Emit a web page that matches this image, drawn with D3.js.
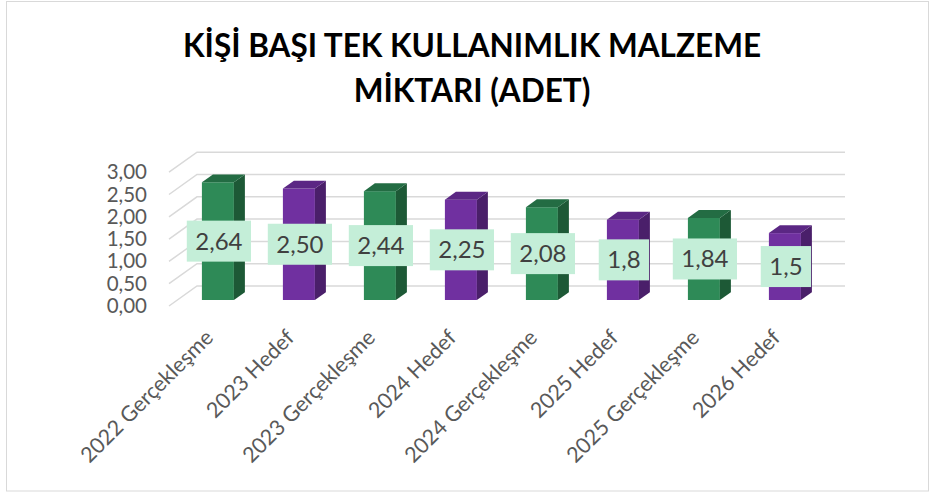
<!DOCTYPE html>
<html>
<head>
<meta charset="utf-8">
<script src="https://cdn.jsdelivr.net/npm/d3@7"></script>
<style>
  body { margin: 0; background: #fff; }
  svg { display: block; font-family: Lato, "Open Sans", sans-serif; }
</style>
</head>
<body>
<svg width="931" height="493"></svg>
<script>
var kategoriler = ["2022 Gerçekleşme", "2023 Hedef", "2023 Gerçekleşme", "2024 Hedef",
                   "2024 Gerçekleşme", "2025 Hedef", "2025 Gerçekleşme", "2026 Hedef"];
var degerler = [2.64, 2.50, 2.44, 2.25, 2.08, 1.8, 1.84, 1.5];
var etiketler = ["2,64", "2,50", "2,44", "2,25", "2,08", "1,8", "1,84", "1,5"];
var yTikler = [0, 0.5, 1, 1.5, 2, 2.5, 3];
var baslik = ["KİŞİ BAŞI TEK KULLANIMLIK MALZEME", "MİKTARI (ADET)"];

var svg = d3.select("svg");

// 3D: full depth shifts a point by (derinX, derinY)
var derinX = 28, derinY = -20;
function p(x, y, z) { return [x + derinX * z, y + derinY * z]; }

var x = d3.scaleBand()
    .domain(kategoriler)
    .range([169, 817])
    .paddingInner(0.605)
    .paddingOuter(0.3025);

var y = d3.scaleLinear().domain([0, 3]).range([306, 172.2]);

var renk = {
  g: {on: "#2e8a57", yan: "#1d5936", ust: "#236c43"},
  h: {on: "#7030a0", yan: "#4a1f6a", ust: "#5b2784"}
};
function tur(d) { return /Hedef/.test(d) ? "h" : "g"; }

var virgul = d3.formatLocale({decimal: ",", thousands: ".", grouping: [3], currency: ["", ""]}).format(".2f");

// border
svg.append("rect")
    .attr("x", 6.5).attr("y", 1.5)
    .attr("width", 922).attr("height", 489.5)
    .attr("fill", "none")
    .attr("stroke", "#d9d9d9");

// title
svg.append("g")
    .attr("font-weight", "bold")
    .attr("font-size", 31.5)
    .attr("text-anchor", "middle")
  .selectAll("text")
  .data(baslik)
  .enter().append("text")
    .attr("x", 472)
    .attr("y", function(d, i) { return 57 + i * 45; })
    .text(function(d) { return d; });

// gridlines: side wall diagonal + back wall
var grid = svg.append("g")
    .attr("fill", "none")
    .attr("stroke", "#d9d9d9")
    .attr("stroke-width", 1.5);

grid.selectAll("path")
  .data(yTikler)
  .enter().append("path")
    .attr("d", function(d) {
      var a = p(x.range()[0], y(d), 0),
          b = p(x.range()[0], y(d), 1),
          c = p(x.range()[1], y(d), 1);
      return "M" + a + "L" + b + "L" + c;
    });

// y axis
var yEksen = svg.append("g")
    .attr("transform", "translate(147,0)")
    .call(d3.axisLeft(y).tickValues(yTikler).tickSize(0).tickPadding(0).tickFormat(virgul));
yEksen.select(".domain").remove();
yEksen.selectAll("text")
    .attr("font-family", "Lato, sans-serif")
    .attr("font-size", 20.5)
    .attr("fill", "#595959");

// bars
var z1 = 0.3, z2 = 0.3 + 11 / 28;
var cubuk = svg.append("g").selectAll("g")
  .data(kategoriler)
  .enter().append("g");

function kose(d, i) {
  var x0 = x(d), x1 = x0 + x.bandwidth();
  return {
    x0: x0, x1: x1,
    fT: p(x0, y(degerler[i]), z1), fB: p(x1, y(0), z1),
    bT0: p(x0, y(degerler[i]), z2), bT1: p(x1, y(degerler[i]), z2), bB1: p(x1, y(0), z2)
  };
}

cubuk.append("rect")
    .attr("x", function(d, i) { return kose(d, i).fT[0]; })
    .attr("y", function(d, i) { return kose(d, i).fT[1]; })
    .attr("width", x.bandwidth())
    .attr("height", function(d, i) { return y(0) - y(degerler[i]); })
    .attr("fill", function(d) { return renk[tur(d)].on; });

cubuk.append("path")
    .attr("d", function(d, i) {
      var k = kose(d, i), fr = [k.fB[0], k.fT[1]];
      return "M" + k.fB + "L" + k.bB1 + "L" + k.bT1 + "L" + fr + "Z";
    })
    .attr("fill", function(d) { return renk[tur(d)].yan; });

cubuk.append("path")
    .attr("d", function(d, i) {
      var k = kose(d, i), fr = [k.fB[0], k.fT[1]];
      return "M" + k.fT + "L" + k.bT0 + "L" + k.bT1 + "L" + fr + "Z";
    })
    .attr("fill", function(d) { return renk[tur(d)].ust; });

// data labels
var etiket = svg.append("g").selectAll("g")
  .data(kategoriler)
  .enter().append("g")
    .attr("transform", function(d, i) {
      var k = kose(d, i);
      return "translate(" + (k.fT[0] + x.bandwidth() / 2 + 1) + "," + ((k.fT[1] + k.fB[1]) / 2) + ")";
    });

etiket.append("rect").attr("fill", "#c4eed8");

etiket.append("text")
    .attr("text-anchor", "middle")
    .attr("dy", "0.35em")
    .attr("font-size", 24)
    .attr("fill", "#404040")
    .text(function(d, i) { return etiketler[i]; });

etiket.each(function() {
  var g = d3.select(this),
      w = g.select("text").node().getComputedTextLength() + 17;
  g.select("rect")
      .attr("x", -w / 2).attr("y", -20.5)
      .attr("width", w).attr("height", 41);
});

// x axis
var xEksen = svg.append("g")
    .attr("transform", "translate(0,337)")
    .call(d3.axisBottom(x).tickSize(0));
xEksen.select(".domain").remove();
xEksen.selectAll("text")
    .attr("x", 0).attr("y", 0).attr("dy", 0)
    .attr("text-anchor", "end")
    .attr("transform", "translate(5,2) rotate(-45)")
    .attr("font-family", "Lato, sans-serif")
    .attr("font-size", 21.5)
    .attr("fill", "#595959");
</script>
</body>
</html>
